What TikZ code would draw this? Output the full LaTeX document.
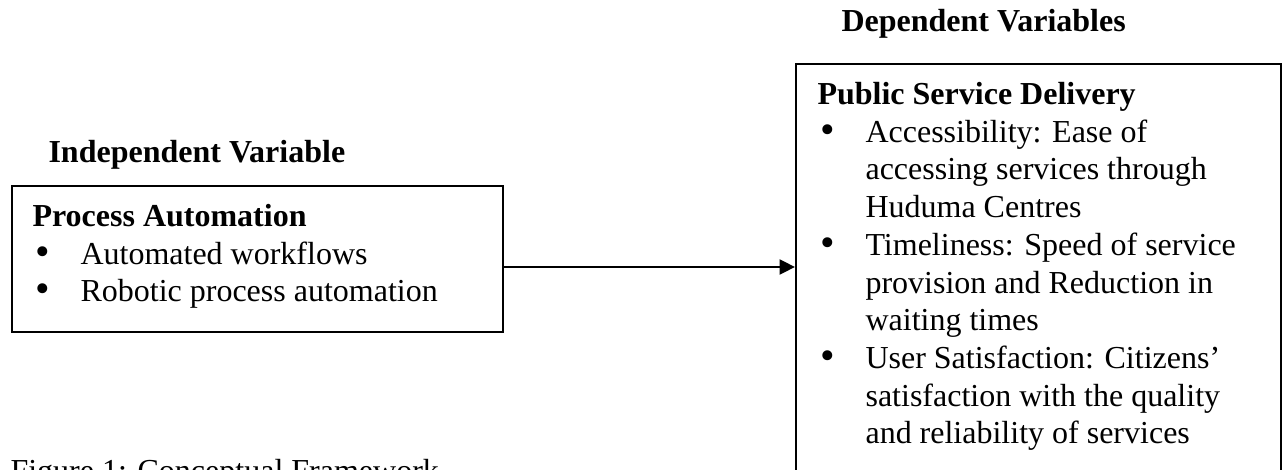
\documentclass[tikz,border=0pt]{standalone}
\usepackage{fontspec}
\usepackage{graphicx}
\setmainfont{Liberation Serif}
\usetikzlibrary{arrows.meta}

\newcommand\bodyfont{\fontsize{12}{14.14}\selectfont}
\newcommand\bul{\makebox[18pt][l]{\hspace{1.2pt}\raisebox{-0.3pt}{\scalebox{1.3}{\textbullet}}}}

\begin{document}
\begin{tikzpicture}[x=0.375pt, y=-0.375pt]
\tikzstyle{every node} = [font=\bodyfont]
\tikzstyle{box} = [draw, line width=0.6pt, inner sep=0pt, anchor=north west]
\tikzstyle{heading} = [font=\bodyfont\bfseries, inner sep=0pt, anchor=base west]
\tikzstyle{txt} = [inner sep=0pt, anchor=north west]
\tikzstyle{link} = [line width=0.9pt, -{Triangle[length=5.8pt,width=5.6pt]}]

\useasboundingbox (0,0) rectangle (1282,470);

	\node[heading] (indep) at (48,163) {Independent Variable};
	\node[heading] (dep) at (841,32) {Dependent Variables};

	\node[box, minimum width=184.1pt, minimum height=54.75pt] (pa) at (11,185) {}; %left box
	\node[txt] (patxt) at (32,199.6) {%
	\begin{tabular}{@{}l@{}l@{}}
	\multicolumn{2}{@{}l@{}}{\textbf{Process Automation}}\\
	\bul & Automated workflows\\
	\bul & Robotic process automation
	\end{tabular}};

	\node[box, minimum width=181.9pt, minimum height=172pt] (psd) at (795,63) {}; %right box
	\node[txt] (psdtxt) at (817,77.6) {%
	\begin{tabular}{@{}l@{}l@{}}
	\multicolumn{2}{@{}l@{}}{\textbf{Public Service Delivery}}\\
	\bul & Accessibility: Ease of\\
	     & accessing services through\\
	     & Huduma Centres\\
	\bul & Timeliness: Speed of service\\
	     & provision and Reduction in\\
	     & waiting times\\
	\bul & User Satisfaction: Citizens’\\
	     & satisfaction with the quality\\
	     & and reliability of services
	\end{tabular}};

	\coordinate (arr) at (pa.east |- 0,267);
	\draw[link] (arr) -- (arr -| psd.west);

	\node[txt, anchor=base west] (caption) at (10,481) {Figure 1: Conceptual Framework};
\end{tikzpicture}
\end{document}
